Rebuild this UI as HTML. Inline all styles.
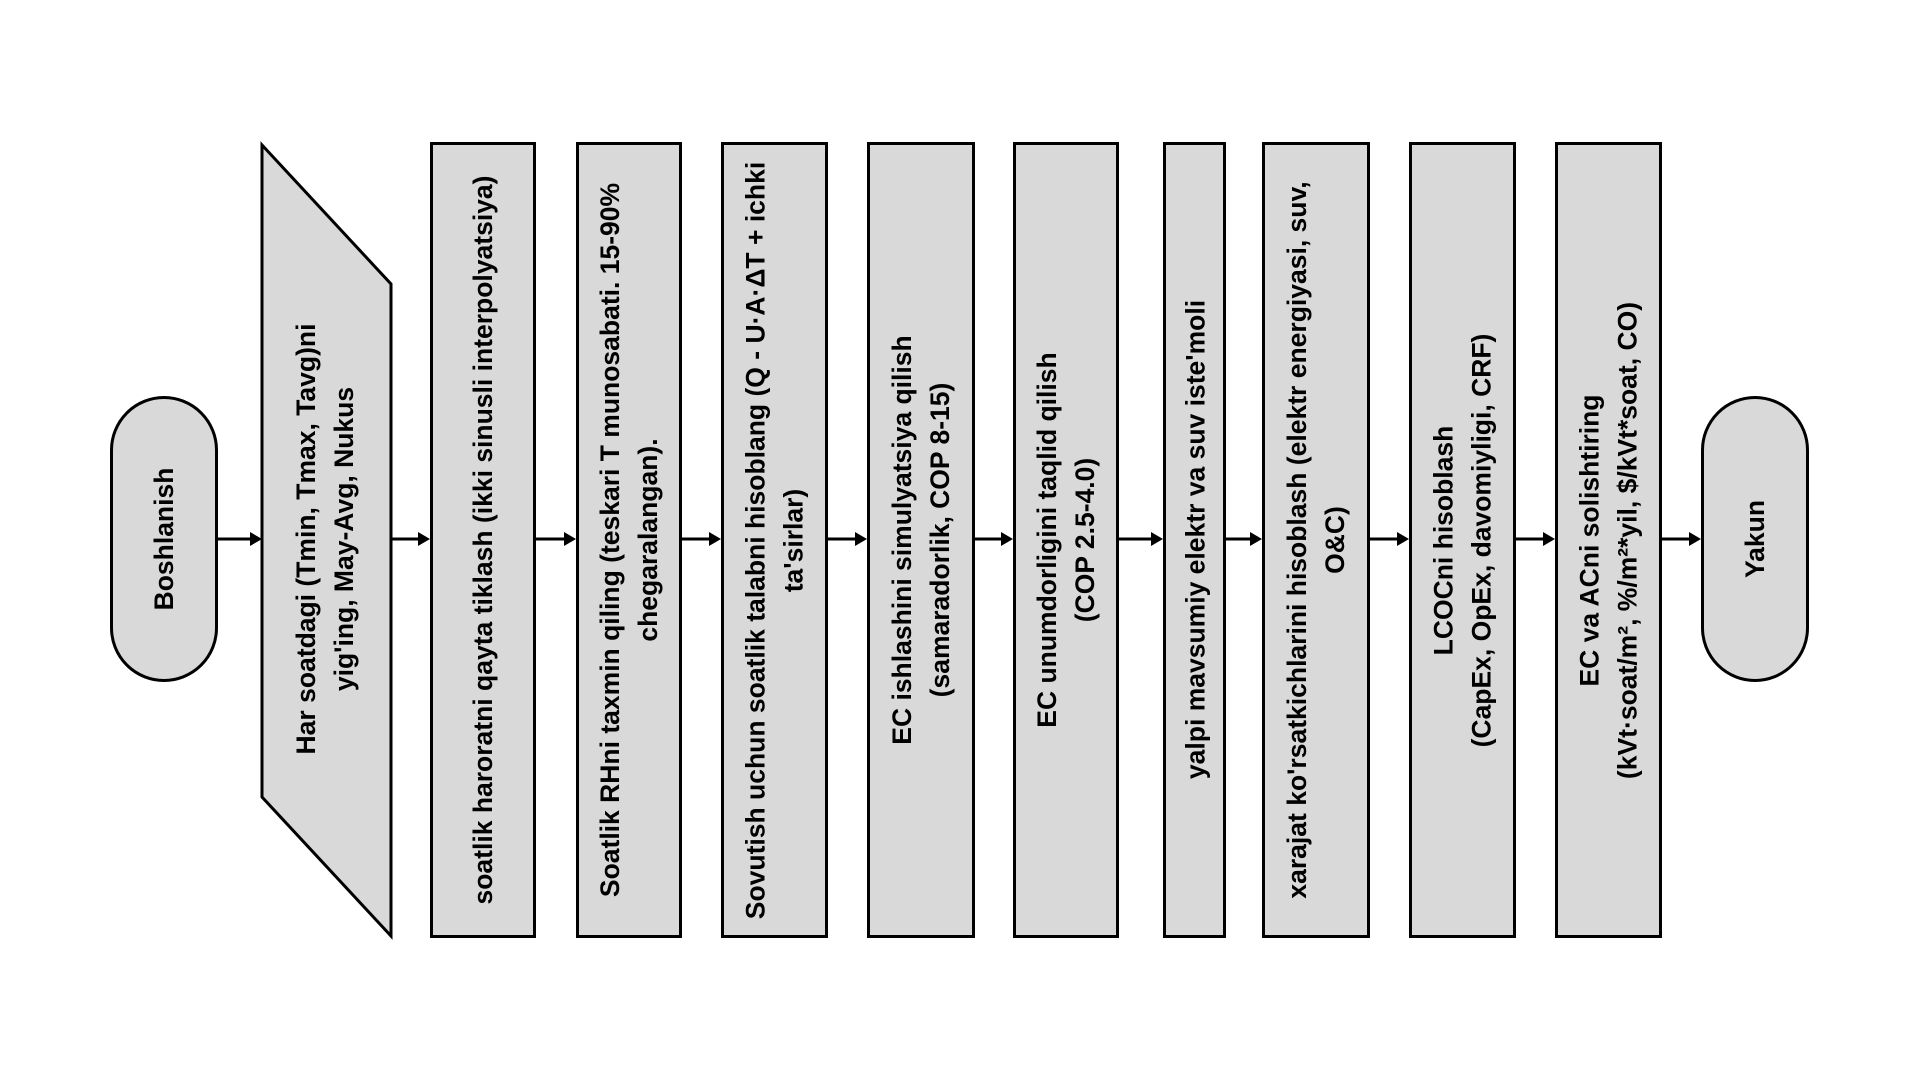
<!DOCTYPE html>
<html><head><meta charset="utf-8"><style>
body{margin:0;width:1920px;height:1080px;background:#fff;position:relative;overflow:hidden;font-family:"Liberation Sans",sans-serif;}
.n{position:absolute;box-sizing:border-box;background:#d9d9d9;border:3px solid #000;}
.t{position:absolute;display:flex;align-items:center;justify-content:center;text-align:center;transform:rotate(-90deg);font-weight:bold;font-size:26.5px;line-height:38px;color:#000;white-space:nowrap;}
svg{position:absolute;left:0;top:0}
</style></head><body>
<svg width="1920" height="1080">
<polygon points="262,145 391,284 391,936 262,797" fill="#d9d9d9" stroke="#000" stroke-width="3"/>
<g stroke="#000" stroke-width="3">
<line x1="218" y1="539" x2="252" y2="539"/>
<line x1="392" y1="539" x2="420" y2="539"/>
<line x1="536" y1="539" x2="566" y2="539"/>
<line x1="682" y1="539" x2="711" y2="539"/>
<line x1="828" y1="539" x2="857" y2="539"/>
<line x1="975" y1="539" x2="1003" y2="539"/>
<line x1="1119" y1="539" x2="1153" y2="539"/>
<line x1="1226" y1="539" x2="1252" y2="539"/>
<line x1="1370" y1="539" x2="1399" y2="539"/>
<line x1="1516" y1="539" x2="1545" y2="539"/>
<line x1="1662" y1="539" x2="1691" y2="539"/>
</g>
<g fill="#000">
<polygon points="262,539 250,532 250,546"/>
<polygon points="430,539 418,532 418,546"/>
<polygon points="576,539 564,532 564,546"/>
<polygon points="721,539 709,532 709,546"/>
<polygon points="867,539 855,532 855,546"/>
<polygon points="1013,539 1001,532 1001,546"/>
<polygon points="1163,539 1151,532 1151,546"/>
<polygon points="1262,539 1250,532 1250,546"/>
<polygon points="1409,539 1397,532 1397,546"/>
<polygon points="1555,539 1543,532 1543,546"/>
<polygon points="1701,539 1689,532 1689,546"/>
</g>
</svg>

<div class="n" style="left:110px;top:396px;width:108px;height:286px;border-radius:54px;"></div>
<div class="t" style="left:21px;top:485px;width:286px;height:108px;">Boshlanish</div>

<div class="t" style="left:-70px;top:485px;width:790px;height:108px;">Har soatdagi (Tmin, Tmax, Tavg)ni<br>yig'ing, May-Avg, Nukus</div>

<div class="n" style="left:430px;top:142px;width:106px;height:796px;"></div>
<div class="t" style="left:85px;top:487px;width:796px;height:106px;">soatlik haroratni qayta tiklash (ikki sinusli interpolyatsiya)</div>

<div class="n" style="left:576px;top:142px;width:106px;height:796px;"></div>
<div class="t" style="left:231px;top:487px;width:796px;height:106px;">Soatlik RHni taxmin qiling (teskari T munosabati. 15-90%<br>chegaralangan).</div>

<div class="n" style="left:721px;top:142px;width:107px;height:796px;"></div>
<div class="t" style="left:376px;top:487px;width:796px;height:107px;">Sovutish uchun soatlik talabni hisoblang (Q - U·A·ΔT + ichki<br>ta'sirlar)</div>

<div class="n" style="left:867px;top:142px;width:108px;height:796px;"></div>
<div class="t" style="left:523px;top:486px;width:796px;height:108px;">EC ishlashini simulyatsiya qilish<br>(samaradorlik, COP 8-15)</div>

<div class="n" style="left:1013px;top:142px;width:106px;height:796px;"></div>
<div class="t" style="left:668px;top:487px;width:796px;height:106px;">EC unumdorligini taqlid qilish<br>(COP 2.5-4.0)</div>

<div class="n" style="left:1163px;top:142px;width:63px;height:796px;"></div>
<div class="t" style="left:797px;top:508px;width:796px;height:63px;">yalpi mavsumiy elektr va suv iste'moli</div>

<div class="n" style="left:1262px;top:142px;width:108px;height:796px;"></div>
<div class="t" style="left:918px;top:486px;width:796px;height:108px;">xarajat ko'rsatkichlarini hisoblash (elektr energiyasi, suv,<br>O&amp;C)</div>

<div class="n" style="left:1409px;top:142px;width:107px;height:796px;"></div>
<div class="t" style="left:1064px;top:487px;width:796px;height:107px;">LCOCni hisoblash<br>(CapEx, OpEx, davomiyligi, CRF)</div>

<div class="n" style="left:1555px;top:142px;width:107px;height:796px;"></div>
<div class="t" style="left:1210px;top:487px;width:796px;height:107px;">EC va ACni solishtiring<br>(kVt·soat/m², %/m²*yil, $/kVt*soat, CO)</div>

<div class="n" style="left:1701px;top:396px;width:108px;height:286px;border-radius:54px;"></div>
<div class="t" style="left:1612px;top:485px;width:286px;height:108px;">Yakun</div>
</body></html>
